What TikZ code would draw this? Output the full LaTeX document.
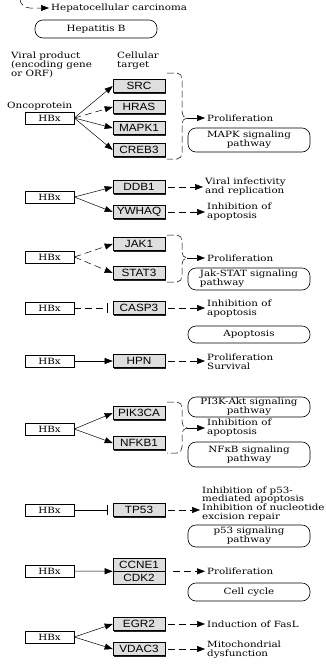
\documentclass[tikz,border=0pt]{standalone}
\usepackage{fontspec}
\setmainfont{DejaVu Serif}[FakeStretch=1.2]
\newfontfamily\genefont{Liberation Sans}[FakeStretch=1.12]
\usepackage{tikz}
\usetikzlibrary{arrows.meta}
\usetikzlibrary{shadows}

\begin{document}
\begin{tikzpicture}[x=1pt,y=-1pt,
		font=\fontsize{8.6pt}{8.8pt}\selectfont,
		viral/.style={draw,line width=0.6pt,minimum width=49pt,minimum height=12pt,inner sep=0pt},
		gene/.style={draw,line width=0.6pt,fill=black!13,minimum width=52pt,minimum height=13pt,inner sep=0pt,
			font=\genefont\fontsize{10.5pt}{10.5pt}\selectfont,
			general shadow={fill=black!85,shadow xshift=1.3pt,shadow yshift=-1.3pt}},
		pathway/.style={draw,line width=0.6pt,rounded corners=8pt,minimum width=122pt,inner sep=1pt,align=center},
		effect/.style={anchor=west,align=left,inner xsep=2pt,inner ysep=0pt},
		note/.style={anchor=north west,align=left,inner sep=0pt},
		act/.style={-{Triangle[length=8pt,width=6pt]},line width=0.5pt},
		ind/.style={act,dash pattern=on 7pt off 4pt},
		inh/.style={-{Bar[width=10pt]},line width=0.5pt,shorten >=5pt},
		brace/.style={line width=0.5pt,dash pattern=on 7pt off 3pt}]
	\useasboundingbox (0,0) rectangle (326,664);
	
	% top: disease and infection
	\coordinate (cut) at (20,-1);
	\node[effect] (hcc) at (49,8) {Hepatocellular carcinoma};
	\draw[ind] (cut) to[out=-90,in=180] (30,8) -- (hcc.west);
	\node[pathway,minimum height=18pt] (hepb) at (96,29) {Hepatitis B};
	
	\node[note] (viral) at (11,52) {Viral product\\(encoding gene\\or ORF)};
	\node[note] (cell) at (117,52) {Cellular\\target};
	\node[anchor=west,inner sep=0pt] (onco) at (7,106) {Oncoprotein};
	
	% MAPK
	\node[viral] (hbx1) at (49.5,118) {HBx};
	\node[gene] (src) at (139,86) {SRC};
	\node[gene] (hras) at (139,107) {HRAS};
	\node[gene] (mapk1) at (139,128) {MAPK1};
	\node[gene] (creb3) at (139,150) {CREB3};
	\path[act]
	(hbx1.east) edge (src.west)
	edge[ind] (hras.west)
	edge (mapk1.west)
	edge (creb3.west);
	\draw[brace] (167,73) -- (177,73) to[out=0,in=90] (182,79) -- (182,112)
	to[out=-90,in=180] (187,118) coordinate (b1)
	to[out=180,in=90] (182,124) -- (182,153) to[out=-90,in=0] (177,159) -- (167,159);
	\node[effect] (prolif1) at (205,118) {Proliferation};
	\draw[act] (b1) -- (prolif1.west);
	\node[pathway,minimum height=24pt] (mapk) at (249,140) {MAPK signaling\\pathway};
	
	% DDB1, YWHAQ
	\node[viral] (hbx2) at (49.5,197) {HBx};
	\node[gene] (ddb1) at (139,187) {DDB1};
	\node[gene] (ywhaq) at (139,212) {YWHAQ};
	\path[act]
	(hbx2.east) edge (ddb1.west)
	edge (ywhaq.west);
	\node[effect] (viralinf) at (203,187) {Viral infectivity\\and replication};
	\node[effect] (inhapo1) at (205,212) {Inhibition of\\apoptosis};
	\draw[ind] ([xshift=3pt]ddb1.east) -- (ddb1.east -| viralinf.west);
	\draw[ind] ([xshift=3pt]ywhaq.east) -- (ywhaq.east -| inhapo1.west);
	
	% Jak-STAT
	\node[viral] (hbx3) at (49.5,257) {HBx};
	\node[gene] (jak1) at (139,244) {JAK1};
	\node[gene] (stat3) at (139,273) {STAT3};
	\path[ind]
	(hbx3.east) edge (jak1.west)
	edge (stat3.west);
	\draw[brace] (167,235) -- (177,235) to[out=0,in=90] (182,241) -- (182,252)
	to[out=-90,in=180] (187,258) coordinate (b3)
	to[out=180,in=90] (182,264) -- (182,276) to[out=-90,in=0] (177,282) -- (167,282);
	\node[effect] (prolif3) at (205,258) {Proliferation};
	\draw[act] (b3) -- (prolif3.west);
	\node[pathway,minimum height=22pt,align=left] (jakstat) at (249,279) {Jak-STAT signaling\\pathway};
	
	% CASP3
	\node[viral] (hbx4) at (49.5,308) {HBx};
	\node[gene] (casp3) at (139,308) {CASP3};
	\path[inh,dash pattern=on 7pt off 4pt] (hbx4.east) edge (casp3.west);
	\node[effect] (inhapo4) at (205,309) {Inhibition of\\apoptosis};
	\draw[ind] ([xshift=3pt]casp3.east) -- (casp3.east -| inhapo4.west);
	\node[pathway,minimum height=17pt] (apop) at (249,334.5) {Apoptosis};
	
	% HPN
	\node[viral] (hbx5) at (49.5,361) {HBx};
	\node[gene] (hpn) at (139,361) {HPN};
	\path[act] (hbx5.east) edge (hpn.west);
	\node[effect] (prolsurv) at (205,362) {Proliferation\\Survival};
	\draw[ind] ([xshift=3pt]hpn.east) -- (hpn.east -| prolsurv.west);
	
	% PI3K-Akt, NFkB
	\node[pathway,minimum height=20pt] (pi3k) at (249,407) {PI3K-Akt signaling\\pathway};
	\node[viral] (hbx6) at (49.5,429) {HBx};
	\node[gene] (pik3ca) at (139,413) {PIK3CA};
	\node[gene] (nfkb1) at (139,443) {NFKB1};
	\path[act]
	(hbx6.east) edge (pik3ca.west)
	edge (nfkb1.west);
	\draw[brace] (167,402) -- (177,402) to[out=0,in=90] (182,408) -- (182,422)
	to[out=-90,in=180] (187,428) coordinate (b6)
	to[out=180,in=90] (182,434) -- (182,447) to[out=-90,in=0] (177,453) -- (167,453);
	\node[effect] (inhapo6) at (205,428) {Inhibition of\\apoptosis};
	\draw[act] (b6) -- (inhapo6.west);
	\node[pathway,minimum height=25pt] (nfkb) at (249,454.5) {NFκB signaling\\pathway};
	
	% TP53
	\node[viral] (hbx7) at (49.5,510) {HBx};
	\node[gene] (tp53) at (139,510) {TP53};
	\path[inh] (hbx7.east) edge (tp53.west);
	\node[effect] (inhp53) at (200,504) {Inhibition of p53-\\mediated apoptosis\\Inhibition of nucleotide\\excision repair};
	\draw[ind] ([xshift=3pt]tp53.east) -- (tp53.east -| inhp53.west);
	\node[pathway,minimum height=22pt] (p53) at (249,536) {p53 signaling\\pathway};
	
	% cell cycle
	\node[viral] (hbx8) at (49.5,571) {HBx};
	\node[gene] (ccne1) at (139,564.5) {CCNE1};
	\node[gene] (cdk2) at (139,577.5) {CDK2};
	\path[act] (hbx8.east) edge (ccne1.south west);
	\node[effect] (prolif8) at (205,571) {Proliferation};
	\draw[ind] ([xshift=8pt]ccne1.south east) -- (ccne1.south east -| prolif8.west);
	\node[pathway,minimum height=18pt] (cellcyc) at (249,592) {Cell cycle};
	
	% EGR2, VDAC3
	\node[viral] (hbx9) at (49.5,637) {HBx};
	\node[gene] (egr2) at (139,624) {EGR2};
	\node[gene] (vdac3) at (139,649) {VDAC3};
	\path[act]
	(hbx9.east) edge (egr2.west)
	edge (vdac3.west);
	\node[effect] (fasl) at (205,624) {Induction of FasL};
	\node[effect] (mito) at (205,650) {Mitochondrial\\dysfunction};
	\draw[ind] ([xshift=3pt]egr2.east) -- (egr2.east -| fasl.west);
	\draw[ind] ([xshift=3pt]vdac3.east) -- (vdac3.east -| mito.west);
\end{tikzpicture}
\end{document}
